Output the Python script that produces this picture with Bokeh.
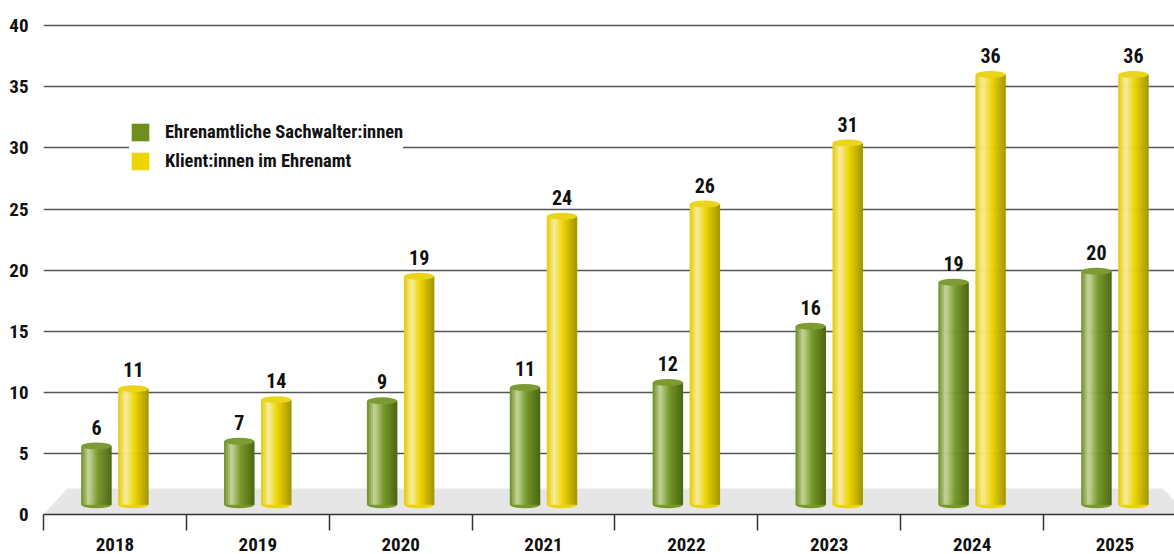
import numpy as np
from bokeh.plotting import figure
from bokeh.models import (ColumnDataSource, Range1d, FixedTicker, Legend, LegendItem)
from bokeh.core.properties import value
from bokeh.embed import file_html
from bokeh.resources import INLINE

# ---------------- data ----------------
years = ["2018", "2019", "2020", "2021", "2022", "2023", "2024", "2025"]
sachwalter = [6, 7, 9, 11, 12, 16, 19, 20]          # labels: Ehrenamtliche Sachwalter:innen
klienten = [11, 14, 19, 24, 26, 31, 36, 36]         # labels: Klient:innen im Ehrenamt
# bar heights as drawn in the picture (they differ slightly from the labels)
sachwalter_drawn = [5.6, 6.0, 9.3, 10.4, 10.8, 15.4, 19.0, 19.9]
klienten_drawn = [10.3, 9.4, 19.5, 24.4, 25.4, 30.4, 36.0, 36.0]
series_names = ["Ehrenamtliche Sachwalter:innen", "Klient:innen im Ehrenamt"]
y_ticks = [0, 5, 10, 15, 20, 25, 30, 35, 40]

# ---------------- style ----------------
FONT = "Roboto Condensed"
GREEN = "#6f8e1b"
YELLOW = "#ecd500"
GREEN_STOPS = [(0.0, "#6a8a1e"), (0.25, "#c6d59c"), (0.55, "#78982a"), (1.0, "#4a6612")]
YELLOW_STOPS = [(0.0, "#e2ca00"), (0.25, "#f8ec9c"), (0.55, "#ecd400"), (1.0, "#a49400")]
GREEN_CAP = "#7d9b33"
YELLOW_CAP = "#ebd51c"
BAR_W = 0.21
OFFSET = 0.1295
BASE = 0.8
N_STRIPS = 15
FLOOR_DEPTH = 2.13
FLOOR_SLANT = 0.168


def hex2rgb(h):
    h = h.lstrip("#")
    return np.array([int(h[i:i + 2], 16) for i in (0, 2, 4)], dtype=float)


def grad(stops, t):
    for (t0, c0), (t1, c1) in zip(stops[:-1], stops[1:]):
        if t0 <= t <= t1:
            f = (t - t0) / (t1 - t0)
            c = hex2rgb(c0) * (1 - f) + hex2rgb(c1) * f
            return "#%02x%02x%02x" % tuple(int(round(v)) for v in c)
    return stops[-1][1]


n = len(years)
centers = np.arange(n) + 0.5
XE = 1131 / 142.86

p = figure(frame_width=1131, frame_height=501, x_range=Range1d(0, XE),
           y_range=Range1d(0, 41), output_backend="svg", toolbar_location=None,
           min_border_left=43, min_border_right=0, min_border_top=13, min_border_bottom=40,
           background_fill_color="white", border_fill_color="white")
p.outline_line_color = None

# grid
p.xgrid.grid_line_color = None
p.ygrid.ticker = FixedTicker(ticks=y_ticks)
p.ygrid.grid_line_color = "#555555"
p.ygrid.grid_line_width = 1.5

# y axis
p.yaxis.ticker = FixedTicker(ticks=y_ticks)
p.yaxis.axis_line_color = None
p.yaxis.major_tick_line_color = None
p.yaxis.minor_tick_line_color = None
p.yaxis.major_tick_out = 0
p.yaxis.major_label_standoff = 15
p.yaxis.major_label_text_font = FONT
p.yaxis.major_label_text_font_style = "bold"
p.yaxis.major_label_text_font_size = "19px"
p.yaxis.major_label_text_color = "#111111"

# x axis
p.xaxis.ticker = FixedTicker(ticks=list(centers), minor_ticks=list(np.arange(n + 1)))
p.xaxis.major_label_overrides = {float(c): y for c, y in zip(centers, years)}
p.xaxis.axis_line_color = "#333333"
p.xaxis.axis_line_width = 1.5
p.xaxis.major_tick_line_color = None
p.xaxis.major_tick_out = 0
p.xaxis.major_tick_in = 0
p.xaxis.minor_tick_line_color = "#333333"
p.xaxis.minor_tick_line_width = 1.5
p.xaxis.minor_tick_out = 16
p.xaxis.minor_tick_in = 0
p.xaxis.major_label_standoff = 7
p.xaxis.major_label_text_font = FONT
p.xaxis.major_label_text_font_style = "bold"
p.xaxis.major_label_text_font_size = "19px"
p.xaxis.major_label_text_color = "#111111"

# floor
p.patch([0, FLOOR_SLANT, XE - 0.08, XE - 0.08 + FLOOR_SLANT], [0, FLOOR_DEPTH, FLOOR_DEPTH, 0],
        fill_color="#e6e6e6", line_color=None)

# cylinders
for heights, labels, off, stops, cap in [
        (sachwalter_drawn, sachwalter, -OFFSET, GREEN_STOPS, GREEN_CAP),
        (klienten_drawn, klienten, OFFSET, YELLOW_STOPS, YELLOW_CAP)]:
    bx = centers + off
    p.ellipse(x=bx, y=[BASE] * n, width=BAR_W, height=7, height_units="screen",
              fill_color=grad(stops, 0.55), line_color=None)
    xs, tops, cols = [], [], []
    sw = BAR_W / N_STRIPS
    for i in range(N_STRIPS):
        t = (i + 0.5) / N_STRIPS
        for j in range(n):
            xs.append(bx[j] - BAR_W / 2 + (i + 0.5) * sw)
            tops.append(heights[j])
            cols.append(grad(stops, t))
    src = ColumnDataSource(dict(x=xs, top=tops, c=cols))
    p.vbar(x="x", top="top", bottom=BASE, width=sw * 1.25, fill_color="c", line_color=None, source=src)
    p.ellipse(x=bx, y=heights, width=BAR_W, height=7, height_units="screen",
              fill_color=cap, line_color=None)
    p.text(x=bx, y=heights, text=[str(v) for v in labels], text_align="center",
           text_baseline="middle", y_offset=-19, text_font=value(FONT),
           text_font_style="bold", text_font_size="20px", text_color="#111111")

# legend (swatch renderers hold one point outside the visible range)
r_g = p.rect(x=[-5], y=[-5], width=1, height=1, fill_color=GREEN, line_color=None)
r_y = p.rect(x=[-5], y=[-5], width=1, height=1, fill_color=YELLOW, line_color=None)
legend = Legend(items=[LegendItem(label=series_names[0], renderers=[r_g]),
                       LegendItem(label=series_names[1], renderers=[r_y])],
                location=(86, 342), orientation="vertical",
                background_fill_color="white", background_fill_alpha=1.0,
                border_line_color=None, padding=14, spacing=7, margin=0,
                glyph_width=22, glyph_height=22, label_height=22, label_standoff=14,
                label_text_font=FONT, label_text_font_style="bold",
                label_text_font_size="18.5px", label_text_color="#111111")
p.add_layout(legend)

open("out.html", "w").write(file_html(p, INLINE))
